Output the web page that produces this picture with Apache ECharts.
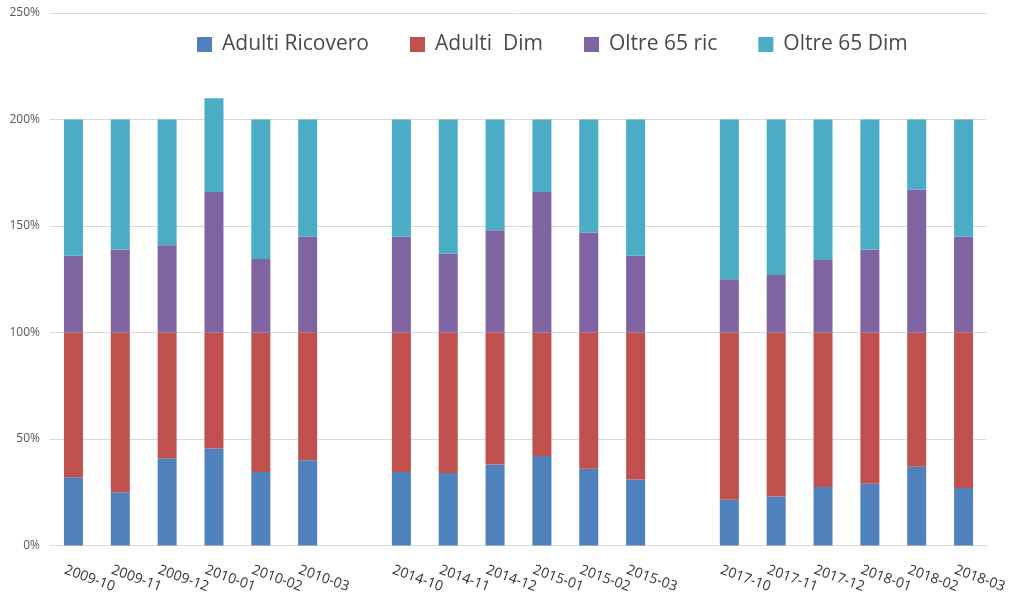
<!DOCTYPE html>
<html>
<head>
<meta charset="utf-8">
<script src="https://cdn.jsdelivr.net/npm/echarts@6/dist/echarts.min.js"></script>
<style>
html,body{margin:0;padding:0;background:#fff;}
#chart{width:1024px;height:612px;}
</style>
</head>
<body>
<div id="chart"></div>
<script>
var categories = ['2009-10','2009-11','2009-12','2010-01','2010-02','2010-03','',
  '2014-10','2014-11','2014-12','2015-01','2015-02','2015-03','',
  '2017-10','2017-11','2017-12','2018-01','2018-02','2018-03'];
var adultiRicovero = [32, 25, 41, 45.5, 34.5, 40, null, 34.5, 34, 38, 42, 36, 31, null, 21.5, 23, 27.5, 29, 37, 27];
var adultiDim      = [68, 75, 59, 54.5, 65.5, 60, null, 65.5, 66, 62, 58, 64, 69, null, 78.5, 77, 72.5, 71, 63, 73];
var oltre65Ric     = [36, 39, 41, 66, 34.5, 45, null, 45, 37, 48, 66, 47, 36, null, 25, 27, 34, 39, 67, 45];
var oltre65Dim     = [64, 61, 59, 44, 65.5, 55, null, 55, 63, 52, 34, 53, 64, null, 75, 73, 66, 61, 33, 55];
var seriesNames = ['Adulti Ricovero', 'Adulti  Dim', 'Oltre 65 ric', 'Oltre 65 Dim'];
var yTicks = {min: 0, max: 250, interval: 50};

var colors = ['#4F81BD', '#C0504D', '#8064A2', '#4BACC6'];
var chart = echarts.init(document.getElementById('chart'));
var values = [adultiRicovero, adultiDim, oltre65Ric, oltre65Dim];
chart.setOption({
  animation: false,
  color: colors,
  legend: {
    left: 197, top: 34, padding: 0,
    itemWidth: 15, itemHeight: 15, itemGap: 41,
    icon: 'rect',
    textStyle: {fontFamily: 'Open Sans', fontSize: 21, color: '#4a4a4a', padding: [0,0,0,5]},
    data: seriesNames
  },
  grid: {left: 50, right: 37, top: 13, bottom: 66.5, containLabel: false},
  xAxis: {
    type: 'category',
    data: categories,
    axisLine: {show: true, lineStyle: {color: '#D9D9D9'}},
    axisTick: {show: false},
    axisLabel: {
      interval: 0, rotate: -20, margin: 27,
      fontFamily: 'Open Sans', fontSize: 14, color: '#333',
      padding: [0, 0, 0, -9]
    }
  },
  yAxis: {
    type: 'value',
    min: yTicks.min, max: yTicks.max, interval: yTicks.interval,
    axisLine: {show: false},
    axisTick: {show: false},
    splitLine: {lineStyle: {color: '#D9D9D9'}},
    axisLabel: {formatter: '{value}%', fontFamily: 'Open Sans', fontSize: 12, color: '#595959', margin: 10}
  },
  series: seriesNames.map(function(n, i){
    return {name: n, type: 'bar', stack: 'total', barWidth: 19, data: values[i]};
  })
});
</script>
</body>
</html>
